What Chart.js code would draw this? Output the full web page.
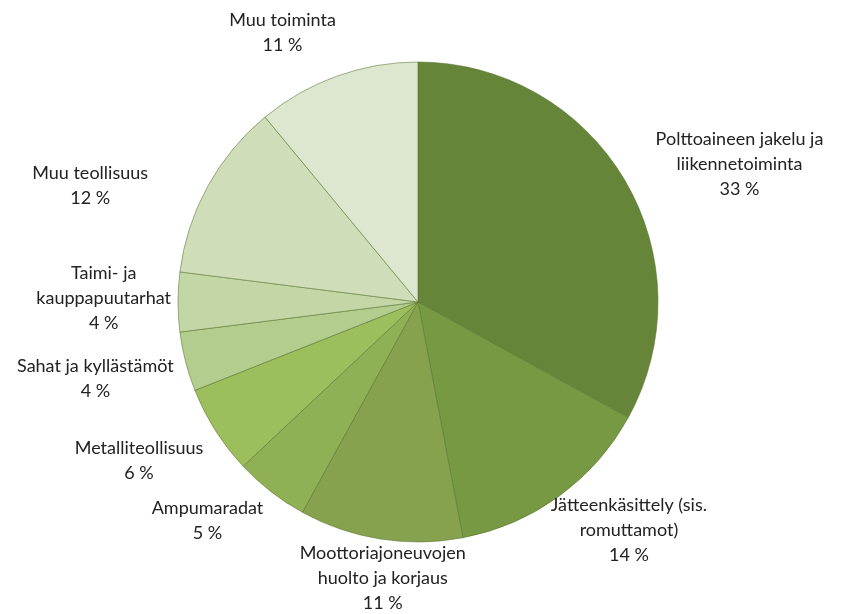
<!DOCTYPE html>
<html>
<head>
<meta charset="utf-8">
<script src="https://cdn.jsdelivr.net/npm/chart.js@4"></script>
<style>
  html, body { margin: 0; padding: 0; background: #fff; }
  #wrap { width: 843px; height: 614px; }
</style>
</head>
<body>
<div id="wrap"><canvas id="grafico"></canvas></div>
<script>
// Luokat (rivitetty kuten alkuperäisessä)
const luokat = [
  ['Polttoaineen jakelu ja', 'liikennetoiminta'],
  ['Jätteenkäsittely (sis.', 'romuttamot)'],
  ['Moottoriajoneuvojen', 'huolto ja korjaus'],
  ['Ampumaradat'],
  ['Metalliteollisuus'],
  ['Sahat ja kyllästämöt'],
  ['Taimi- ja', 'kauppapuutarhat'],
  ['Muu teollisuus'],
  ['Muu toiminta']
];
const osuudet = [33, 14, 11, 5, 6, 4, 4, 12, 11];
const varit = ['#678539', '#789944', '#86a24e', '#8fb054', '#9cbe5c', '#b2cd8e', '#c3d7a6', '#cfdeb8', '#dde6cf'];

// Tekstien hienosäätö (px)
const siirrot = [[26, 37], [18, -37], [12, -22], [-23, -23], [-9, -13], [1, -6], [5, -4], [-52, 35], [-36, 7]];

const fontti = '18px Lato, "Open Sans", sans-serif';
const riviVali = 25;

const tekstit = {
  id: 'tekstit',
  afterDatasetsDraw(chart) {
    const ctx = chart.ctx;
    const meta = chart.getDatasetMeta(0);
    ctx.save();
    ctx.font = fontti;
    ctx.fillStyle = '#222';
    ctx.textAlign = 'center';
    ctx.textBaseline = 'middle';
    meta.data.forEach((arc, i) => {
      const { x, y, startAngle, endAngle, outerRadius } = arc.getProps(['x', 'y', 'startAngle', 'endAngle', 'outerRadius'], true);
      const kulma = (startAngle + endAngle) / 2;
      const dx = Math.cos(kulma), dy = Math.sin(kulma);
      const rivit = luokat[i].concat([osuudet[i] + ' %']);
      const lev = Math.max(...rivit.map(r => ctx.measureText(r).width));
      const kork = rivit.length * riviVali;
      const tuki = Math.abs(dx) * lev / 2 + Math.abs(dy) * kork / 2;
      const d = outerRadius + 12 + tuki;
      const cx = x + dx * d + siirrot[i][0];
      const cy = y + dy * d + siirrot[i][1];
      rivit.forEach((r, j) => {
        ctx.fillText(r, cx, cy - kork / 2 + riviVali / 2 + j * riviVali);
      });
    });
    ctx.restore();
  }
};

new Chart(document.getElementById('grafico'), {
  type: 'pie',
  data: {
    labels: luokat.map(l => l.join(' ')),
    datasets: [{
      data: osuudet,
      backgroundColor: varit,
      borderColor: 'rgba(85, 115, 45, 0.55)',
      borderWidth: 1
    }]
  },
  options: {
    responsive: true,
    maintainAspectRatio: false,
    animation: false,
    radius: 240,
    layout: { padding: { left: 100, right: 107, top: 40, bottom: 50 } },
    plugins: {
      legend: { display: false },
      tooltip: { enabled: false }
    }
  },
  plugins: [tekstit]
});
</script>
</body>
</html>
